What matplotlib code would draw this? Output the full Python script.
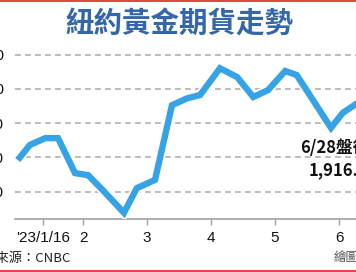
import matplotlib
matplotlib.use('Agg')
import matplotlib.pyplot as plt
import matplotlib.patheffects as pe
from matplotlib.lines import Line2D

# month position (2 = Feb 1, 3 = Mar 1, ...) and price (USD / oz)
months = [0.98, 1.17, 1.41, 1.61, 1.875, 2.08, 2.31, 2.64, 2.84, 3.125,
          3.39, 3.625, 3.83, 4.14, 4.41, 4.66, 4.89, 5.16, 5.34, 5.875,
          6.06, 6.27, 6.48]
prices = [1896, 1918, 1928, 1928, 1877, 1874, 1852, 1819, 1855, 1867,
          1976, 1986, 1991, 2030, 2017, 1988, 1998, 2026, 2020, 1943,
          1965, 1978, 1985]

xtick_pos = [1.375, 2, 3, 4, 5, 6]
xtick_labels = ["'23/1/16", '2', '3', '4', '5', '6']
ytick_vals = [1850, 1900, 1950, 2000, 2050]

W, H = 356, 272
fig = plt.figure(figsize=(W / 100, H / 100), dpi=100)
fig.patch.set_facecolor('white')

# axes run past the right edge (the picture is a crop)
left, right, bottom, top = 15, 420, 219, 50
ax = fig.add_axes([left / W, (H - bottom) / H, (right - left) / W, (bottom - top) / H])
ax.set_xlim(2 + (left - 83) / 64, 2 + (right - 83) / 64)
ax.set_ylim(1810, 2056.6)

for v in ytick_vals:
    ax.axhline(v, color='#b0b0b0', lw=1.2, ls=(0, (3.5, 2.5)), zorder=1)

ax.plot(months, prices, color='#36a3e6', lw=4.6, solid_joinstyle='miter',
        solid_capstyle='butt', zorder=3,
        path_effects=[pe.Stroke(linewidth=7, foreground='white'), pe.Normal()])

for s in ['top', 'right', 'left']:
    ax.spines[s].set_visible(False)
ax.spines['bottom'].set_color('#a0a0a0')
ax.spines['bottom'].set_linewidth(1.2)

ax.set_xticks(xtick_pos)
ax.set_xticklabels(xtick_labels, fontsize=11, family='Liberation Sans', color='#111111')
ax.tick_params(axis='x', length=4, width=1, color='#a0a0a0', pad=5)
ax.set_yticks(ytick_vals)
ax.set_yticklabels([str(v) for v in ytick_vals], fontsize=11, family='Liberation Sans',
                   color='#111111')
ax.tick_params(axis='y', length=0, pad=8)

cjk = ['Noto Sans CJK TC', 'DejaVu Sans']
fig.text(179 / W, 1 - 25 / H, '紐約黃金期貨走勢', ha='center', va='center',
         fontsize=20.5, color='#3567a8', family=cjk, fontweight='bold')

ax.annotate('6/28盤後', xy=(300 / W, 1 - 148 / H), xycoords='figure fraction',
            ha='left', va='center', fontsize=12, family=cjk, fontweight='bold',
            color='#111111')
ax.annotate('1,916.4美元', xy=(309 / W, 1 - 170 / H), xycoords='figure fraction',
            ha='left', va='center', fontsize=12, family=cjk, fontweight='bold',
            color='#111111')

fig.text(71 / W, 1 - 258 / H, '資料來源：CNBC', ha='right', va='center',
         fontsize=9.5, family=cjk, color='#222222')
fig.text(334 / W, 1 - 258 / H, '繪圖：編輯部', ha='left', va='center',
         fontsize=9, family=cjk, color='#555555')

fig.add_artist(Line2D([0, 1], [1 - 0.8 / H, 1 - 0.8 / H], transform=fig.transFigure,
                      color='#e02020', lw=1.2))
fig.add_artist(Line2D([0, 1], [1 - 270.5 / H, 1 - 270.5 / H], transform=fig.transFigure,
                      color='#e02020', lw=1.2))

fig.savefig('out.png', dpi=100)
